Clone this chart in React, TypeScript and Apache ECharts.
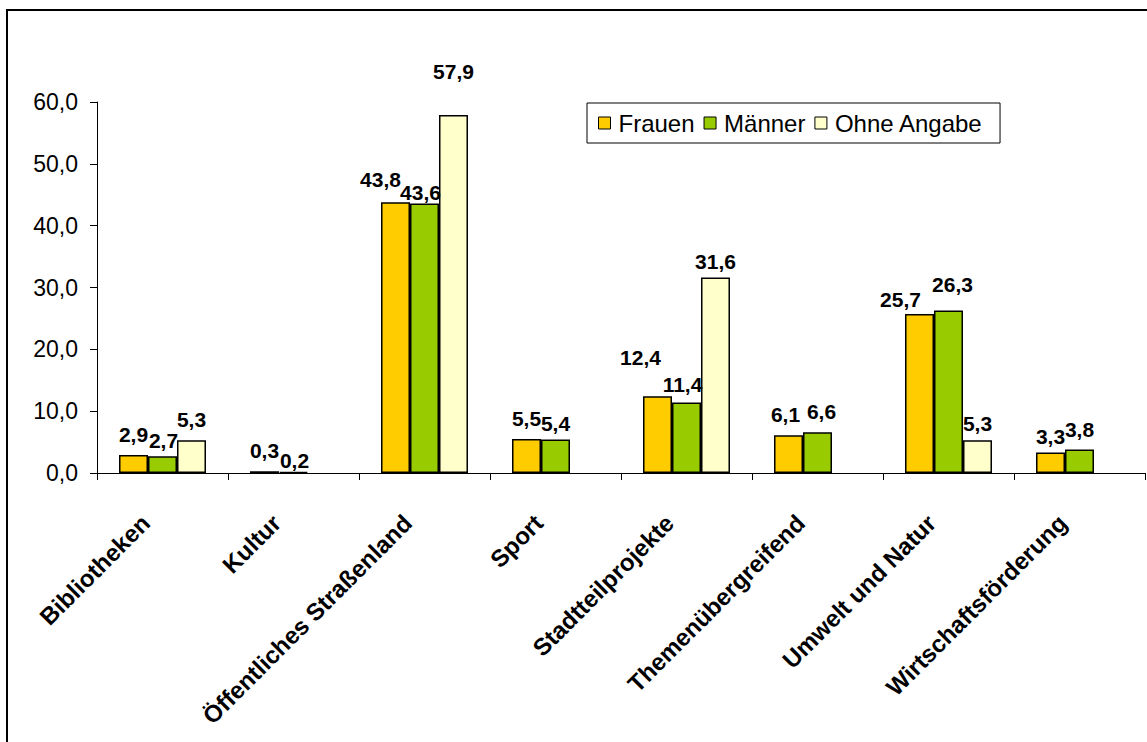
import React, { useEffect, useRef } from "react";
import * as echarts from "echarts";

const categories = [
  "Bibliotheken",
  "Kultur",
  "Öffentliches Straßenland",
  "Sport",
  "Stadtteilprojekte",
  "Themenübergreifend",
  "Umwelt und Natur",
  "Wirtschaftsförderung",
];

const frauen = [2.9, 0.3, 43.8, 5.5, 12.4, 6.1, 25.7, 3.3];
const maenner = [2.7, 0.2, 43.6, 5.4, 11.4, 6.6, 26.3, 3.8];
const ohneAngabe = [5.3, null, 57.9, null, 31.6, null, 5.3, null];

const yTicks = { min: 0, max: 60, interval: 10 };

// Hand-placed label nudges [dx, dy] so neighbouring value labels don't collide.
const labelNudge: Record<string, [number, number]> = {
  "Frauen|Öffentliches Straßenland": [-15, -2],
  "Männer|Öffentliches Straßenland": [-4, 10],
  "Frauen|Stadtteilprojekte": [-17, -18],
  "Männer|Stadtteilprojekte": [-4, 2],
  "Frauen|Umwelt und Natur": [-19, 6],
  "Männer|Umwelt und Natur": [4, -5],
  "Männer|Bibliotheken": [1, 5],
  "Männer|Kultur": [1, 9],
  "Männer|Sport": [0, 4],
  "Frauen|Themenübergreifend": [-3, 0],
  "Männer|Themenübergreifend": [4, 0],
  "Ohne Angabe|Öffentliches Straßenland": [0, -23],
  "Ohne Angabe|Umwelt und Natur": [0, 4],
  "Ohne Angabe|Stadtteilprojekte": [0, 4],
  "Frauen|Wirtschaftsförderung": [0, 4],
};

const FONT = "'Liberation Sans', Arial, Helvetica, sans-serif";

const fmt = (v: number) => v.toFixed(1).replace(".", ",");

export default function App() {
  const ref = useRef<HTMLDivElement>(null);

  useEffect(() => {
    if (!ref.current) return;
    const chart = echarts.init(ref.current, undefined, { renderer: "svg" });

    const mkSeries = (name: string, values: (number | null)[], color: string) => ({
      name,
      type: "bar" as const,
      data: values.map((v, i) => {
        const nudge = labelNudge[`${name}|${categories[i]}`];
        return nudge ? { value: v, label: { offset: nudge } } : { value: v };
      }),
      barGap: "0%",
      barCategoryGap: "33.6%",
      itemStyle: { color, borderColor: "#000", borderWidth: 1.5 },
      label: {
        show: true,
        position: "top" as const,
        distance: 10,
        color: "#000",
        fontFamily: FONT,
        fontWeight: "bold" as const,
        fontSize: 21,
        formatter: (p: any) => (p.value == null ? "" : fmt(p.value)),
      },
    });

    chart.setOption({
      animation: false,
      backgroundColor: "#fff",
      textStyle: { fontFamily: FONT },
      graphic: [
        {
          type: "rect",
          shape: { x: 7, y: 10, width: 1300, height: 900 },
          style: { fill: "none", stroke: "#000", lineWidth: 2 },
          silent: true,
        },
      ],
      legend: {
        left: 587,
        top: 103,
        padding: [8, 17, 8, 11],
        borderColor: "#000",
        borderWidth: 1,
        itemWidth: 12,
        itemHeight: 12,
        itemGap: 9,
        icon: "rect",
        itemStyle: { borderColor: "#000", borderWidth: 1 },
        textStyle: {
          color: "#000",
          fontFamily: FONT,
          fontSize: 24,
          padding: [0, 0, 0, 3],
        },
        data: ["Frauen", "Männer", "Ohne Angabe"],
      },
      grid: { left: 97, right: 2, top: 102, bottom: 269, containLabel: false },
      xAxis: {
        type: "category",
        data: categories,
        axisLine: { lineStyle: { color: "#000", width: 1 } },
        axisTick: { show: true, length: 7, lineStyle: { color: "#000" } },
        axisLabel: {
          interval: 0,
          rotate: 45,
          margin: 29,
          padding: [0, 24, 0, 0],
          color: "#000",
          fontFamily: FONT,
          fontWeight: "bold",
          fontSize: 24,
        },
      },
      yAxis: {
        type: "value",
        min: yTicks.min,
        max: yTicks.max,
        interval: yTicks.interval,
        axisLine: { show: true, lineStyle: { color: "#000", width: 1 } },
        axisTick: { show: true, length: 7, lineStyle: { color: "#000" } },
        splitLine: { show: false },
        axisLabel: {
          margin: 19,
          color: "#000",
          fontFamily: FONT,
          fontSize: 23,
          formatter: (v: number) => fmt(v),
        },
      },
      series: [
        mkSeries("Frauen", frauen, "#FFCC00"),
        mkSeries("Männer", maenner, "#99CC00"),
        mkSeries("Ohne Angabe", ohneAngabe, "#FFFFCC"),
      ],
    });

    return () => chart.dispose();
  }, []);

  return (
    <div
      ref={ref}
      style={{ position: "fixed", left: 0, top: 0, width: 1147, height: 742, background: "#fff" }}
    />
  );
}
